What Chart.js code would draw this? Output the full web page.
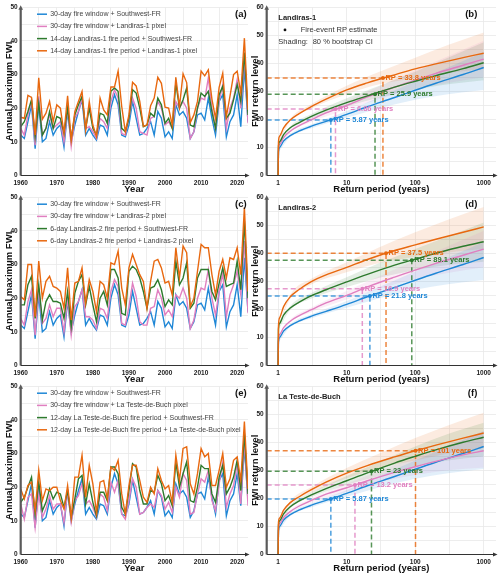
<!DOCTYPE html>
<html>
<head>
<meta charset="utf-8">
<title>Annual maximum FWI and return levels</title>
<script src="https://cdn.jsdelivr.net/npm/chart.js@4.4.1/dist/chart.umd.min.js"></script>
<style>
  body { margin: 0; background: #fff; }
  #wrap { position: relative; width: 500px; height: 577px; overflow: hidden; }
  #wrap canvas { position: absolute; }
</style>
</head>
<body>
<div id="wrap">
  <canvas id="chartA" width="250" height="198" style="left:0;top:0"></canvas>
  <canvas id="chartB" width="250" height="198" style="left:250px;top:0"></canvas>
  <canvas id="chartC" width="250" height="198" style="left:0;top:190px"></canvas>
  <canvas id="chartD" width="250" height="198" style="left:250px;top:190px"></canvas>
  <canvas id="chartE" width="250" height="198" style="left:0;top:379px"></canvas>
  <canvas id="chartF" width="250" height="198" style="left:250px;top:379px"></canvas>
</div>
<script>
const FONT = "'Liberation Sans', Arial, sans-serif";
const BLUE = '#1f87d6', PINK = '#e07fc0', GREEN = '#2d7a2d', ORANGE = '#e8680f';
const COLORS = [BLUE, PINK, GREEN, ORANGE];

/* ---- annual maximum FWI, 1960-2023 ---- */
const years = [1960,1961,1962,1963,1964,1965,1966,1967,1968,1969,
  1970,1971,1972,1973,1974,1975,1976,1977,1978,1979,
  1980,1981,1982,1983,1984,1985,1986,1987,1988,1989,
  1990,1991,1992,1993,1994,1995,1996,1997,1998,1999,
  2000,2001,2002,2003,2004,2005,2006,2007,2008,2009,
  2010,2011,2012,2013,2014,2015,2016,2017,2018,2019,
  2020,2021,2022,2023];

// 30-day fire window + Southwest-FR (same in all three panels)
const fwiBlue = [12,11,16,21,8,21,10,11,16,12, 14,15,8.5,19,10,15,19,22.5,12,14,
  12,10.5,15,14.5,12,20,24,21,12,11.5, 15,22,17,12,12.5,14,16,12,19,17,
  11.5,13,11,21,18,19,17,11,13,18, 18.5,16.5,23,17,12,22,24,11.5,16,18,
  24,14.5,32,16];

// panel (a) Landiras-1
const fwiPinkL1 = [14,12,18,22,9,23.5,12,14,18,14, 15,16,10,20,8.7,17,19,23,14,14.5,
  13,11,17,16,14,22,25.5,23,12.5,12, 17,23,20,13,12.5,12,17,17.5,22,20,
  15,16,14,22,20,22,20,11,13,20, 23,22.5,29,20,14,22,27,14,20,23,
  28.5,20,35,15.5];
const fwiGreenL1 = [14.5,16,19,22.5,11.5,21.5,12,14,19,14, 17.5,17,12.5,20,11,18,21,23.5,14,20,
  14,12,18.5,18,15.5,25,26,25,14,13, 17,25.5,24.5,20,14.5,15,18.5,17.5,23,21,
  15.5,17,14,27.5,20,22.5,26,15,14.5,20, 24.5,23.5,25,19,14,24,26.5,17,18.5,22.5,
  27,22,36.5,18];
const fwiOrangeL1 = [17.3,17,23.8,23.2,12,29,16.7,18.5,22,16, 21,20,12.6,23.7,10.5,19,22,25,13.5,22,
  15,11.6,23,19.5,18,26.3,26.3,31,20.5,13, 18,27.7,26.6,22,14.6,15,20.7,23,29.2,27.4,
  20.3,20,15,29.2,20.5,30.2,27.6,15.7,18,22, 31,29.6,31.4,22.7,17,26.2,30.4,17.5,23.5,30,
  31,24.5,40.8,19.5];

// panel (c) Landiras-2
const fwiPinkL2 = [14,12,19,22.5,9,23,12.5,14,18,14.5, 17,17,10,20,9,17.5,19,22.5,14.5,14.5,
  13.5,11,17,16.5,14,22,25.5,23.5,12.5,12, 17.5,24.5,20.5,13,12,12,17,17.5,22.5,20,
  15,16.5,14.5,21,20,23,20,11,13.5,20, 23,22.5,28.5,20,15,22,27.5,14.5,21,24,
  28,21,37,15.5];
const fwiGreenL2 = [18,18,24,26.5,14,24,13.5,19,21,19, 19,18.5,14,22,11.5,21.5,25,27,18,23.5,
  18,13,20,22,18,28.5,28.5,26,15.5,15, 28,29.5,28.5,26,22,17,23,23.5,25.5,22.5,
  17.5,19.5,18,31,24,26,30.5,17,18.5,26, 28.5,28.5,28.5,22,19.5,24.5,29,23.5,24,24.5,
  31,22.5,43,20];
const fwiOrangeL2 = [20.5,19.5,30,30,14.5,31,20,25,26.5,23.5, 23,22,17,29,13.5,24.5,25,29,18.5,25.5,
  22,16,25,24,20,30.5,30,34,23,18, 29,33,30,27,25,17,25,31,31.5,29,
  24.5,25,21,35,26,35.5,33.5,17.5,20,28, 36,35,35,27,21,28,31.5,26,32,31.5,
  35,27,47,22];

// panel (e) La Teste-de-Buch
const fwiPinkLT = [15,10.5,17,18,8,18,11,13.5,17.5,13.5, 15,15,9.5,19,9.5,16,17.5,21,15,16,
  14,11,18,17,13,21.5,18.5,22,12,10.5, 16,22.5,20,12,12.5,14,15,14,19,17.5,
  13.5,15.5,12.5,20,17,24,22,12,12.5,18, 22.5,21.5,25,16,13,21,27.5,14,18,20.5,
  27,15,34,14.5];
const fwiGreenLT = [15.5,17,20,23,12,21.5,13,15.5,19.5,16.5, 18.5,18,14,19,11,16.5,22.5,23.5,15,21,
  15.5,11.5,18.5,18.5,16,26,26,24,14,12, 19,27,26,19,15,15,19,18.5,23.5,21,
  16,17.5,14.5,27.5,20,24,27.5,16,15.5,20, 26.5,25.5,25.5,18,15.5,23,26.5,18,20,23,
  28,19,36,18];
const fwiOrangeLT = [19.5,16.5,20.5,21.5,13,25,16,19.5,19,20, 20,16,13.5,20.5,11,23,23,29.5,17,26.5,
  21,12.5,21.5,22,16.5,26,25,28,18,12, 20.5,26.5,26.5,22,17,15.5,20,18,25.5,22,
  19.5,20.5,15.5,29.5,22,31.5,32,21,18,24, 31.5,29,30,20.5,20.5,25,30,20,22.5,28,
  29,22,39.5,19.5];

/* ---- return level curves ---- */
const rpGrid = [1, 1.01, 1.05, 1.2, 1.5, 2, 3, 5, 10, 20, 50, 100, 200, 500, 1000];
const rlBlue    = [0, 8.5, 10, 12.3, 14.2, 15.8, 17.5, 19.3, 21.8, 24.5, 27.8, 30.4, 32.9, 36, 38.5];
const rlPink    = [0, 9.5, 11, 13.5, 15.8, 17.7, 19.8, 22.3, 25, 28, 31.5, 34, 36.4, 39.3, 41.5];
const rlGreenL1 = [0, 10.5, 12, 14.6, 17, 18.8, 21, 23.3, 26, 28.4, 31.5, 33.6, 35.6, 38.1, 40.2];
const rlOrangeL1= [0, 12, 14, 17, 19.8, 22, 24.5, 27.2, 30.5, 33, 35.9, 38, 39.8, 42, 43.6];
const rlGreenL2 = [0, 13, 15, 18, 20.5, 22.5, 24.8, 27, 29.8, 32.5, 35.8, 37.9, 40, 42.5, 44.1];
const rlOrangeL2= [0, 14, 17, 21, 24.5, 27, 29.8, 32.3, 35, 37.8, 41, 43, 45, 47.5, 49.4];
const rlPinkLT  = [0, 9.5, 11, 13.2, 15.3, 17.2, 19.2, 21.5, 23.8, 26.3, 29.3, 31.3, 33.2, 35.5, 37];
const rlGreenLT = [0, 10.5, 12, 14.5, 17, 19, 21.2, 23.5, 26.3, 29.1, 32.6, 35, 37.3, 40, 41.8];
const rlOrangeLT= [0, 11.5, 13, 15.8, 18.5, 20.5, 23, 25.8, 29, 31.7, 34.8, 37, 39, 41.5, 43.3];

// 80 % bootstrap CI
const ciGrid = [1.01, 1.5, 3, 10, 30, 100, 300, 1000];
const ciBlueHi    = [8.8, 14.7, 18.2, 23, 28, 33.5, 38.5, 44];
const ciBlueLo    = [8.2, 13.7, 16.8, 20.6, 24, 27, 29, 30.5];
const ciPinkHi    = [9.8, 16.3, 20.6, 26.6, 31.8, 37.5, 42.5, 48];
const ciPinkLo    = [9.2, 15.3, 19, 23.5, 27.3, 30.8, 33, 35];
const ciGreenL1Hi = [10.8, 17.5, 21.8, 27.5, 32, 37, 42, 47.5];
const ciGreenL1Lo = [10.2, 16.5, 20.2, 24.6, 27.8, 30.5, 32.5, 34];
const ciOrangeL1Hi= [12.3, 20.3, 25.3, 32, 37, 42, 46.5, 51];
const ciOrangeL1Lo= [11.7, 19.3, 23.8, 29, 32.5, 34.8, 36.5, 38];
const ciGreenL2Hi = [13.3, 21.2, 25.8, 31.5, 36.5, 41.5, 46, 51];
const ciGreenL2Lo = [12.7, 19.8, 23.8, 28, 31.3, 34, 35.8, 37];
const ciOrangeL2Hi= [14.3, 25.2, 30.8, 36.8, 42.2, 47.5, 52, 56.5];
const ciOrangeL2Lo= [13.7, 23.8, 28.8, 33.2, 36.5, 38.8, 40.3, 41.5];
const ciPinkLTHi  = [9.8, 15.8, 20, 25.2, 29.8, 34.5, 39, 44];
const ciPinkLTLo  = [9.2, 14.8, 18.4, 22.4, 25.8, 28.3, 30, 31];
const ciGreenLTHi = [10.8, 17.6, 22, 28, 33, 38.5, 43, 47];
const ciGreenLTLo = [10.2, 16.4, 20.4, 24.8, 28, 31.5, 33.5, 35];
const ciOrangeLTHi= [11.8, 19.2, 24, 30.8, 36, 41.5, 46, 50.5];
const ciOrangeLTLo= [11.2, 17.8, 22, 27.2, 30.8, 33.5, 36, 38];

// fire-event return periods and FWI levels (blue, pink, green, orange)
const eventRpL1 = [5.87, 6.86, 25.9, 33.8], eventFwiL1 = [19.8, 23.7, 29, 34.8];
const eventRpL2 = [21.8, 16.9, 89.1, 37.5], eventFwiL2 = [24.8, 27.4, 37.5, 40];
const eventRpLT = [5.87, 13.2, 23, 101],    eventFwiLT = [19.8, 24.8, 29.7, 37];

const rpTicks = [1, 3.1623, 10, 31.623, 100, 316.23, 1000];
const RP_MIN = 0.68, RP_MAX = 1510;

function fade(hex, a) {
  const n = parseInt(hex.slice(1), 16);
  return `rgba(${n >> 16},${(n >> 8) & 255},${n & 255},${a})`;
}
function pts(xs, ys) {
  return xs.map((x, i) => ({x: x, y: ys[i]}));
}

/* axes with arrows, inside legend, panel letters and notes */
const panelDeco = {
  id: 'panelDeco',
  afterDatasetsDraw(chart, args, opts) {
    const ctx = chart.ctx;
    const a = chart.chartArea;
    ctx.save();
    // y axis
    ctx.strokeStyle = '#5a5a5a'; ctx.fillStyle = '#5a5a5a';
    ctx.lineWidth = 2.2;
    ctx.beginPath(); ctx.moveTo(a.left, a.bottom); ctx.lineTo(a.left, a.top + 1); ctx.stroke();
    ctx.beginPath(); ctx.moveTo(a.left - 2.3, a.top + 2.5); ctx.lineTo(a.left + 2.3, a.top + 2.5);
    ctx.lineTo(a.left, a.top - 2); ctx.closePath(); ctx.fill();
    // x axis
    ctx.strokeStyle = '#333'; ctx.fillStyle = '#333';
    ctx.lineWidth = 1.2;
    ctx.beginPath(); ctx.moveTo(a.left, a.bottom); ctx.lineTo(a.right, a.bottom); ctx.stroke();
    ctx.beginPath(); ctx.moveTo(a.right - 3, a.bottom - 2); ctx.lineTo(a.right - 3, a.bottom + 2);
    ctx.lineTo(a.right + 1.5, a.bottom); ctx.closePath(); ctx.fill();

    ctx.textBaseline = 'middle';
    // panel letter
    ctx.fillStyle = '#111';
    ctx.font = `bold 9.5px ${FONT}`;
    ctx.textAlign = 'right';
    ctx.fillText(opts.letter, a.right - opts.letterInset, a.top + 6.8);

    ctx.textAlign = 'left';
    if (opts.legend) {
      chart.data.datasets.forEach((ds, i) => {
        const y = a.top + 7 + i * 12.2;
        ctx.strokeStyle = ds.borderColor; ctx.lineWidth = 1.5;
        ctx.beginPath(); ctx.moveTo(a.left + 16.3, y); ctx.lineTo(a.left + 26.3, y); ctx.stroke();
        ctx.fillStyle = '#444';
        ctx.font = `7px ${FONT}`;
        ctx.fillText(ds.label, a.left + 29.5, y);
      });
    }
    if (opts.site) {
      ctx.fillStyle = '#222';
      ctx.font = `bold 7.5px ${FONT}`;
      ctx.fillText(opts.site, a.left + 11.6, a.top + 11);
    }
    if (opts.note) {
      ctx.fillStyle = '#111';
      ctx.beginPath(); ctx.arc(a.left + 18.3, a.top + 22.7, 1.4, 0, Math.PI * 2); ctx.fill();
      ctx.fillStyle = '#333';
      ctx.font = `7.5px ${FONT}`;
      ctx.fillText('Fire-event RP estimate', a.left + 34, a.top + 22.7);
      ctx.fillText('Shading:', a.left + 11.6, a.top + 35);
      ctx.fillText('80 % bootstrap CI', a.left + 46, a.top + 35);
    }
    if (opts.events) {
      const xs = chart.scales.x, ys = chart.scales.y;
      ctx.font = `bold 7.5px ${FONT}`;
      opts.events.rp.forEach((rp, i) => {
        ctx.fillStyle = COLORS[i];
        ctx.fillText(`RP = ${rp} years`, xs.getPixelForValue(rp) + 2.5, ys.getPixelForValue(opts.events.fwi[i]));
      });
    }
    ctx.restore();
  }
};
Chart.register(panelDeco);

const tickFont = {family: FONT, size: 6.5, weight: 'bold'};
const titleFont = {family: FONT, size: 9.5, weight: 'bold'};
const gridStyle = {color: '#e9e9e9', lineWidth: 0.8, drawTicks: false};

function yScale(max, width, title) {
  return {
    min: 0, max: max,
    border: {display: false},
    grid: gridStyle,
    ticks: {stepSize: 5, padding: 3, color: '#222', font: tickFont,
            callback: v => (v % 10 === 0 ? String(v) : '')},
    title: {display: true, text: title, color: '#111', font: titleFont, padding: {top: width > 18 ? 3.5 : 0}},
    afterFit: s => { s.width = width; }
  };
}

function makeSeriesChart(id, letter, labels, series) {
  const datasets = series.map((s, i) => ({
    label: labels[i],
    data: pts(years, s),
    borderColor: COLORS[i],
    borderWidth: 1.4,
    pointRadius: 0,
    tension: 0,
    order: 4 - i
  }));
  return new Chart(document.getElementById(id), {
    type: 'line',
    data: {datasets: datasets},
    options: {
      responsive: false,
      animation: false,
      layout: {padding: {top: 7.2, right: 2, left: 0, bottom: 0}},
      plugins: {
        legend: {display: false},
        tooltip: {enabled: false},
        panelDeco: {letter: letter, letterInset: 1.3, legend: true}
      },
      scales: {
        x: {
          type: 'linear', min: 1960, max: 2023,
          border: {display: false},
          grid: gridStyle,
          ticks: {stepSize: 5, includeBounds: false, autoSkip: false, maxRotation: 0, padding: 4,
                  color: '#222', font: tickFont, callback: v => (v % 10 === 0 ? String(v) : '')},
          title: {display: true, text: 'Year', color: '#111', font: titleFont, padding: {top: 0, bottom: 3}},
          afterFit: s => { s.height = 22.5; }
        },
        y: yScale(50, 20.7, 'Annual maximum FWI')
      }
    }
  });
}

function makeReturnChart(id, letter, site, note, curves, ciHi, ciLo, eventRp, eventFwi) {
  const datasets = [];
  eventRp.forEach((rp, i) => {
    datasets.push({data: pts([rp], [eventFwi[i]]), showLine: false, pointRadius: 2,
                   pointBackgroundColor: COLORS[i], pointBorderWidth: 0, order: 0});
  });
  curves.forEach((c, i) => {
    datasets.push({data: pts(rpGrid, c), borderColor: COLORS[i], borderWidth: 1.4, pointRadius: 0,
                   cubicInterpolationMode: 'monotone', order: 1 + (3 - i) * 0.1});
  });
  eventRp.forEach((rp, i) => {
    datasets.push({data: pts([RP_MIN, rp, rp], [eventFwi[i], eventFwi[i], 0]),
                   borderColor: fade(COLORS[i], 0.8), borderWidth: 1.5, borderDash: [5, 3],
                   pointRadius: 0, tension: 0, order: 2});
  });
  ciHi.forEach((hi, i) => {
    datasets.push({data: pts(ciGrid, hi), borderColor: 'rgba(0,0,0,0)', borderWidth: 0, pointRadius: 0,
                   backgroundColor: fade(COLORS[i], 0.13), fill: '+1',
                   cubicInterpolationMode: 'monotone', order: 5});
    datasets.push({data: pts(ciGrid, ciLo[i]), borderColor: 'rgba(0,0,0,0)', borderWidth: 0, pointRadius: 0,
                   fill: false, cubicInterpolationMode: 'monotone', order: 5});
  });

  return new Chart(document.getElementById(id), {
    type: 'line',
    data: {datasets: datasets},
    options: {
      responsive: false,
      animation: false,
      layout: {padding: {top: 7.2, right: 2, left: 0, bottom: 0}},
      plugins: {
        legend: {display: false},
        tooltip: {enabled: false},
        panelDeco: {letter: letter, letterInset: 18.7, site: site, note: note,
                    events: {rp: eventRp, fwi: eventFwi}}
      },
      scales: {
        x: {
          type: 'logarithmic', min: RP_MIN, max: RP_MAX,
          border: {display: false},
          grid: gridStyle,
          afterBuildTicks: s => { s.ticks = rpTicks.map(v => ({value: v})); },
          ticks: {autoSkip: false, maxRotation: 0, padding: 4, color: '#222', font: tickFont,
                  callback: v => ([1, 10, 100, 1000].includes(v) ? String(v) : '')},
          title: {display: true, text: 'Return period (years)', color: '#111', font: titleFont,
                  padding: {top: 0, bottom: 3}},
          afterFit: s => { s.height = 22.5; }
        },
        y: yScale(60, 16.7, 'FWI return level')
      }
    }
  });
}

makeSeriesChart('chartA', '(a)', [
  '30-day fire window + Southwest-FR',
  '30-day fire window + Landiras-1 pixel',
  '14-day Landiras-1 fire period + Southwest-FR',
  '14-day Landiras-1 fire period + Landiras-1 pixel'
], [fwiBlue, fwiPinkL1, fwiGreenL1, fwiOrangeL1]);

makeSeriesChart('chartC', '(c)', [
  '30-day fire window + Southwest-FR',
  '30-day fire window + Landiras-2 pixel',
  '6-day Landiras-2 fire period + Southwest-FR',
  '6-day Landiras-2 fire period + Landiras-2 pixel'
], [fwiBlue, fwiPinkL2, fwiGreenL2, fwiOrangeL2]);

makeSeriesChart('chartE', '(e)', [
  '30-day fire window + Southwest-FR',
  '30-day fire window + La Teste-de-Buch pixel',
  '12-day La Teste-de-Buch fire period + Southwest-FR',
  '12-day La Teste-de-Buch fire period + La Teste-de-Buch pixel'
], [fwiBlue, fwiPinkLT, fwiGreenLT, fwiOrangeLT]);

makeReturnChart('chartB', '(b)', 'Landiras-1', true,
  [rlBlue, rlPink, rlGreenL1, rlOrangeL1],
  [ciBlueHi, ciPinkHi, ciGreenL1Hi, ciOrangeL1Hi],
  [ciBlueLo, ciPinkLo, ciGreenL1Lo, ciOrangeL1Lo],
  eventRpL1, eventFwiL1);

makeReturnChart('chartD', '(d)', 'Landiras-2', false,
  [rlBlue, rlPink, rlGreenL2, rlOrangeL2],
  [ciBlueHi, ciPinkHi, ciGreenL2Hi, ciOrangeL2Hi],
  [ciBlueLo, ciPinkLo, ciGreenL2Lo, ciOrangeL2Lo],
  eventRpL2, eventFwiL2);

makeReturnChart('chartF', '(f)', 'La Teste-de-Buch', false,
  [rlBlue, rlPinkLT, rlGreenLT, rlOrangeLT],
  [ciBlueHi, ciPinkLTHi, ciGreenLTHi, ciOrangeLTHi],
  [ciBlueLo, ciPinkLTLo, ciGreenLTLo, ciOrangeLTLo],
  eventRpLT, eventFwiLT);
</script>
</body>
</html>
